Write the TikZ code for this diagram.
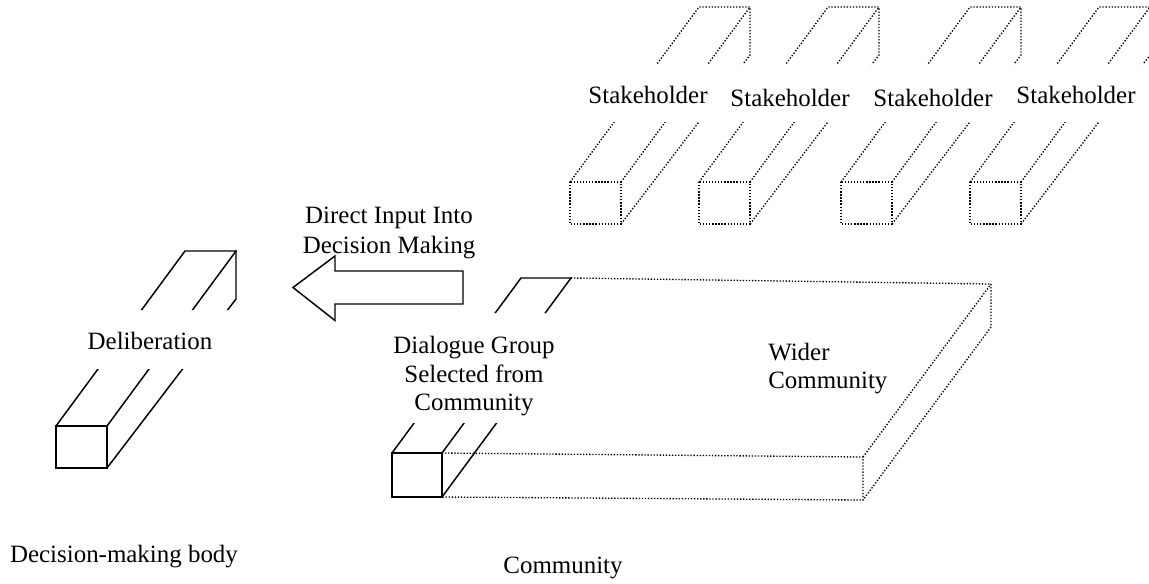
\documentclass[tikz,border=0pt]{standalone}
\usepackage{fontspec}
\setmainfont{Liberation Serif}
\usetikzlibrary{calc}
\tikzset{
  solidln/.style={line width=1.1pt, line join=miter, line cap=rect},
  dotln/.style={line width=1.0pt, dash pattern=on 1.0pt off 1.3pt},
  lbl/.style={inner sep=0pt, anchor=base, font=\fontsize{18.7}{22}\selectfont},
}
% cuboid: #1 x, #2 y (front top-left), #3 gap top, #4 gap bottom, #5 style
\newcommand\mycuboid[5]{%
  \begin{scope}
    \clip (-20,-20) rectangle (1200,#3) (-20,#4) rectangle (1200,620);
    \draw[#5] (#1,#2) rectangle ++(51,42);
    \draw[#5] (#1,#2) -- ++(129,-175) -- ++(51,0) -- ++(0,48) -- ({#1+51},{#2+42});
    \draw[#5] ({#1+51},#2) -- ++(129,-175);
  \end{scope}}
\begin{document}
\begin{tikzpicture}[x=0.75pt,y=-0.75pt]
\useasboundingbox (0,0) rectangle (1149,583);

% Decision-making body (Deliberation)
\mycuboid{56}{426}{310}{369}{solidln}
\node[lbl] (delib) at (150,349) {Deliberation};
\node[lbl] (dmb) at (124,562) {Decision-making body};

% Stakeholders
\mycuboid{570}{182}{64}{122}{dotln}
\mycuboid{699}{182}{64}{122}{dotln}
\mycuboid{841}{182}{64}{122}{dotln}
\mycuboid{970}{182}{64}{122}{dotln}
\node[lbl] (sh1) at (648,103) {Stakeholder};
\node[lbl] (sh2) at (790,106) {Stakeholder};
\node[lbl] (sh3) at (933,106) {Stakeholder};
\node[lbl] (sh4) at (1076,103) {Stakeholder};

% Dialogue group
\begin{scope}
  \clip (-20,-20) rectangle (1200,313) (-20,423) rectangle (1200,620);
  \draw[solidln] (392,453) rectangle (442,497);
  \draw[solidln] (392,453) -- ++(129,-175) -- ++(50,0);
  \draw[solidln] (442,453) -- ++(129,-175);
  \draw[solidln] (442,497) -- ++(129,-175);
\end{scope}
\node[lbl] (dg1) at (474,353) {Dialogue Group};
\node[lbl] (dg2) at (474,382) {Selected from};
\node[lbl] (dg3) at (474,410) {Community};

% Wider community slab
\draw[dotln] (442,453) -- (863,457) -- (863,500) -- (442,497);
\draw[dotln] (571,278) -- (991,284) -- (991,327) -- (863,500);
\draw[dotln] (863,457) -- (991,284);
\node[lbl,anchor=base west] (wc1) at (768,360) {Wider};
\node[lbl,anchor=base west] (wc2) at (768,388) {Community};
\node[lbl] (comm) at (563,573) {Community};

% Block arrow
\draw[solidln] (463,271) -- (335,271) -- (335,256) -- (293,287.5) -- (335,320.5) -- (335,304) -- (463,304) -- cycle;
\node[lbl] (di1) at (389,223) {Direct Input Into};
\node[lbl] (di2) at (389,253) {Decision Making};
\end{tikzpicture}
\end{document}
